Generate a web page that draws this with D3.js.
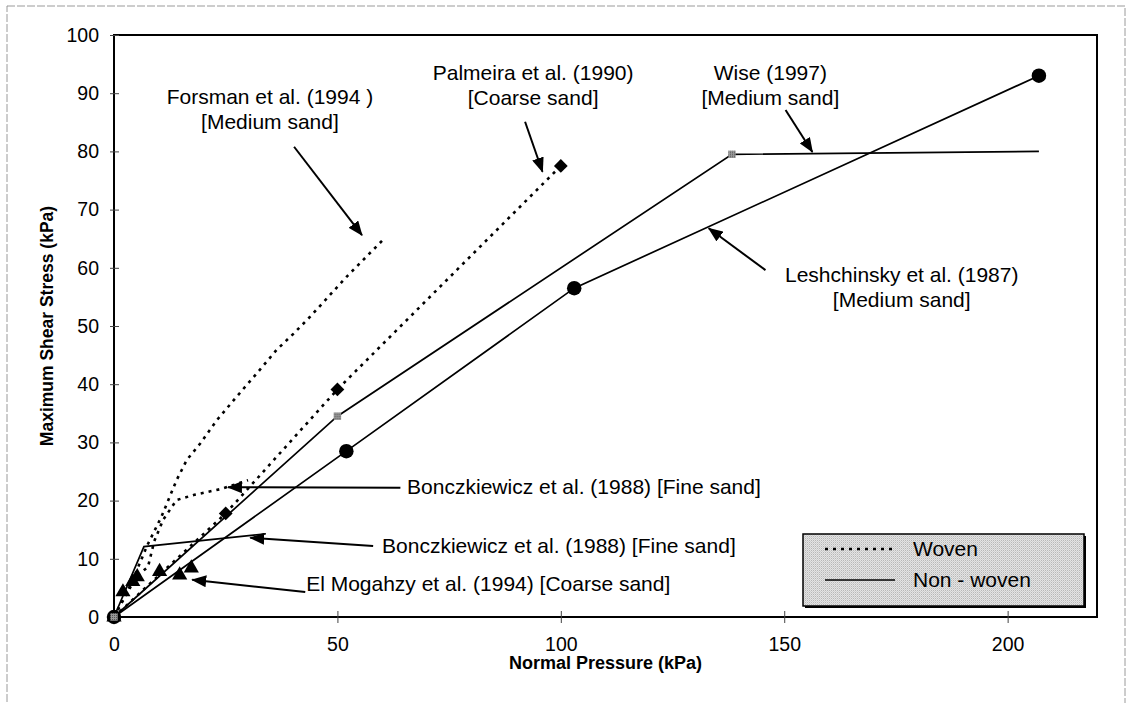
<!DOCTYPE html>
<html>
<head>
<meta charset="utf-8">
<script src="https://cdn.jsdelivr.net/npm/d3@7"></script>
<style>
  body { margin: 0; background: #fff; }
  svg text { font-family: "Liberation Sans", Arial, sans-serif; fill: #000; }
</style>
</head>
<body>
<svg id="chart"></svg>
<script>
// tick values
var xTicks = [0, 50, 100, 150, 200];
var yTicks = [0, 10, 20, 30, 40, 50, 60, 70, 80, 90, 100];

// series values [normal pressure, max shear stress]
var forsman = [[0,0],[4,6],[7.5,12.4],[10.6,17.2],[14,23.5],[16.3,27],[19.3,29.8],[23,33.8],[27.5,37.9],[32,41.9],[36.4,45.9],[40.2,48.7],[43.9,51.6],[52.1,58.5],[60.2,64.8]];
var palmeira = [[0,0],[25,17.8],[50,39.1],[100,77.5]];
var boncWoven = [[0,0],[5,7],[7.6,8.6],[9,13],[11,16.7],[14,20.1],[18,21],[24,22],[30,23.5]];
var boncNonWoven = [[0,0],[6.7,12.1],[34,14.3]];
var wise = [[0,0],[50,34.5],[138.3,79.5],[207,80]];
var leshchinsky = [[0,0],[52,28.5],[103,56.5],[207,93]];
var elMogahzy = [[0,0],[2,4.3],[4.2,6.1],[5.2,6.9],[10.2,7.8],[14.7,7.2],[17.3,8.4]];

// annotations: label anchor and arrow tail/head, in data units
var labelText = [
  ["Forsman et al. (1994 )", "[Medium sand]"],
  ["Palmeira et al. (1990)", "[Coarse sand]"],
  ["Wise (1997)", "[Medium sand]"],
  ["Leshchinsky et al. (1987)", "[Medium sand]"],
  ["Bonczkiewicz et al. (1988) [Fine sand]"],
  ["Bonczkiewicz et al. (1988) [Fine sand]"],
  ["El Mogahzy et al. (1994) [Coarse sand]"]
];
var labelAt = [[34.9,88.1],[93.8,92.3],[146.9,92.3],[176.3,57.6],[65.6,21.1],[60,11],[43,4.5]];
var labelAnchor = ["middle","middle","middle","middle","start","start","start"];
var arrowFrom = [[40.3,80.8],[92,85.1],[150.3,87.1],[145.8,59.6],[64.1,22.2],[58,12.2],[42.8,4.3]];
var arrowTo = [[55.5,65.6],[95.9,76.5],[156.3,79.9],[133.1,66.8],[25.5,22.3],[30.5,13.6],[17.5,6.4]];

var W = 1130, H = 703;
var margin = {top: 35, right: 33, bottom: 86, left: 114};

var svg = d3.select("#chart").attr("width", W).attr("height", H);

var x = d3.scaleLinear().domain([0, 220]).range([margin.left, W - margin.right]);
var y = d3.scaleLinear().domain([0, 100]).range([H - margin.bottom, margin.top]);

var defs = svg.append("defs");
// halftone look for legend / grey markers
var pat = defs.append("pattern").attr("id", "stipple")
    .attr("width", 2).attr("height", 2).attr("patternUnits", "userSpaceOnUse");
pat.append("rect").attr("width", 2).attr("height", 2).attr("fill", "#e4e4e4");
pat.append("rect").attr("width", 1).attr("height", 1).attr("fill", "#b8b8b8");
pat.append("rect").attr("x", 1).attr("y", 1).attr("width", 1).attr("height", 1).attr("fill", "#cfcfcf");

var patDark = defs.append("pattern").attr("id", "stippleDark")
    .attr("width", 2).attr("height", 2).attr("patternUnits", "userSpaceOnUse");
patDark.append("rect").attr("width", 2).attr("height", 2).attr("fill", "#9a9a9a");
patDark.append("rect").attr("width", 1).attr("height", 1).attr("fill", "#555");

defs.append("marker").attr("id", "arrow")
    .attr("markerUnits", "userSpaceOnUse")
    .attr("markerWidth", 15).attr("markerHeight", 12)
    .attr("refX", 14).attr("refY", 6)
    .attr("orient", "auto")
  .append("path").attr("d", "M0,0 L15,6 L0,12 Z").attr("fill", "#000");

// outer chart border
svg.append("rect")
    .attr("x", 7).attr("y", 6).attr("width", 1118).attr("height", 700)
    .attr("fill", "none").attr("stroke", "#9a9a9a").attr("stroke-width", 1)
    .attr("stroke-dasharray", "8,2");

// plot frame
svg.append("rect")
    .attr("x", x(0)).attr("y", y(100))
    .attr("width", x(220) - x(0)).attr("height", y(0) - y(100))
    .attr("fill", "none").attr("stroke", "#000").attr("stroke-width", 2);

// axes
var yAxis = svg.append("g")
    .attr("transform", "translate(" + x(0) + ",0)")
    .call(d3.axisLeft(y).tickValues(yTicks).tickSize(4).tickPadding(11));
var xAxis = svg.append("g")
    .attr("transform", "translate(0," + y(0) + ")")
    .call(d3.axisBottom(x).tickValues(xTicks).tickSize(6).tickPadding(14));

[xAxis, yAxis].forEach(function(g) {
  g.select(".domain").remove();
  g.selectAll("text").style("font-size", "19.5px")
      .style("font-family", "'Liberation Sans', Arial, sans-serif");
  g.selectAll("line").attr("stroke", "#444");
});
yAxis.selectAll("line").attr("x1", 5);
xAxis.selectAll("line").attr("y1", -6);

// axis titles
svg.append("text")
    .attr("transform", "translate(53," + ((y(0) + y(100)) / 2) + ") rotate(-90)")
    .attr("text-anchor", "middle")
    .style("font-size", "17.5px").style("font-weight", "bold")
    .text("Maximum Shear Stress (kPa)");

svg.append("text")
    .attr("x", (x(0) + x(220)) / 2).attr("y", 669)
    .attr("text-anchor", "middle")
    .style("font-size", "18px").style("font-weight", "bold")
    .text("Normal Pressure (kPa)");

// lines
var line = d3.line().x(function(d) { return x(d[0]); }).y(function(d) { return y(d[1]); });

function drawLine(data, woven) {
  svg.append("path")
      .datum(data)
      .attr("d", line)
      .attr("fill", "none")
      .attr("stroke", "#000")
      .attr("stroke-width", woven ? 2.6 : 1.7)
      .attr("stroke-dasharray", woven ? "3,5" : null);
}

drawLine(forsman, true);
drawLine(palmeira, true);
drawLine(boncWoven, true);
drawLine(boncNonWoven, false);
drawLine(wise, false);
drawLine(leshchinsky, false);

// markers
function drawMarkers(data, type, size, fill, rot) {
  svg.append("g").selectAll("path")
      .data(data)
      .enter().append("path")
      .attr("d", d3.symbol().type(type).size(size))
      .attr("transform", function(d) {
        return "translate(" + x(d[0]) + "," + y(d[1]) + ")" + (rot ? " rotate(" + rot + ")" : "");
      })
      .attr("fill", fill);
}

drawMarkers(leshchinsky, d3.symbolCircle, 165, "#000");
drawMarkers(palmeira, d3.symbolSquare, 95, "#000", 45);
drawMarkers(elMogahzy, d3.symbolTriangle, 100, "#000");
// the last Wise point carries no marker in the original
drawMarkers(wise.slice(0, 3), d3.symbolSquare, 55, "url(#stippleDark)");

// annotations
labelText.forEach(function(lines, i) {
  var t = svg.append("text")
      .attr("x", x(labelAt[i][0]))
      .attr("y", y(labelAt[i][1]))
      .attr("text-anchor", labelAnchor[i])
      .style("font-size", "21px");
  lines.forEach(function(s, j) {
    t.append("tspan")
        .attr("x", x(labelAt[i][0]))
        .attr("dy", j === 0 ? 0 : 25)
        .text(s);
  });
  svg.append("line")
      .attr("x1", x(arrowFrom[i][0])).attr("y1", y(arrowFrom[i][1]))
      .attr("x2", x(arrowTo[i][0])).attr("y2", y(arrowTo[i][1]))
      .attr("stroke", "#000").attr("stroke-width", 2)
      .attr("marker-end", "url(#arrow)");
});

// legend
var legend = svg.append("g").attr("transform", "translate(803,534)");
legend.append("rect")
    .attr("x", 2).attr("y", 2).attr("width", 281).attr("height", 72)
    .attr("fill", "#000");
legend.append("rect")
    .attr("width", 281).attr("height", 72)
    .attr("fill", "url(#stipple)").attr("stroke", "#000").attr("stroke-width", 1.5);

var legendItems = ["Woven", "Non - woven"];
legendItems.forEach(function(name, i) {
  var ly = 15 + i * 31;
  legend.append("line")
      .attr("x1", 22).attr("x2", 92).attr("y1", ly).attr("y2", ly)
      .attr("stroke", "#000")
      .attr("stroke-width", i === 0 ? 2.4 : 1.7)
      .attr("stroke-dasharray", i === 0 ? "3,5" : null);
  legend.append("text")
      .attr("x", 110).attr("y", ly).attr("dy", "0.35em")
      .style("font-size", "21px")
      .text(name);
});
</script>
</body>
</html>
